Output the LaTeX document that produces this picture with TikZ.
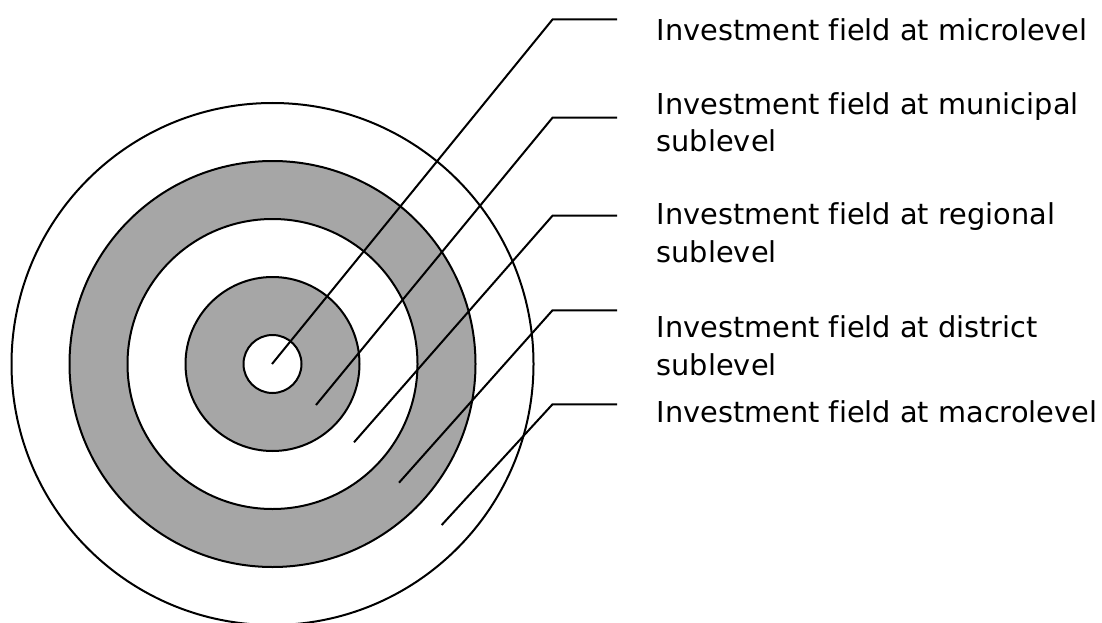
\documentclass[tikz,border=0pt]{standalone}
\usepackage{fontspec}
\setmainfont{DejaVu Sans}[Ligatures=NoCommon]
\definecolor{ringgray}{RGB}{166,166,166}

\begin{document}
\begin{tikzpicture}[x=1pt, y=-1pt,
    ring/.style={draw=black, line width=2pt},
    leader/.style={draw=black, line width=2pt},
    lbl/.style={anchor=base west, align=left, inner sep=0pt,
        font=\fontsize{28.8}{37.4}\selectfont}]
    \useasboundingbox (0,0) rectangle (1102,623);

    % rings, outermost first
    \coordinate (c) at (272.5,364);
    \draw[ring, fill=white] (c) circle (261);
    \draw[ring, fill=ringgray] (c) circle (203);
    \draw[ring, fill=white] (c) circle (145);
    \draw[ring, fill=ringgray] (c) circle (87);
    \draw[ring, fill=white] (c) circle (29);

    % labels (base = last line)
    \node[lbl] (micro) at (656.5,40.7) {Investment field at microlevel};
    \node[lbl] (municipal) at (656.5,151.7) {Investment field at municipal\\sublevel};
    \node[lbl] (regional) at (656.5,262) {Investment field at regional\\sublevel};
    \node[lbl] (district) at (656.5,375.3) {Investment field at district\\sublevel};
    \node[lbl] (macro) at (656.5,422) {Investment field at macrolevel};

    % leader lines
    \coordinate (s1) at (272,364);   \coordinate (k1) at (552.5,19.5);  \coordinate (e1) at (617,19.5);
    \coordinate (s2) at (316,405);   \coordinate (k2) at (552.5,117.7); \coordinate (e2) at (617,117.7);
    \coordinate (s3) at (354,442.3); \coordinate (k3) at (552.5,215.7); \coordinate (e3) at (617,215.7);
    \coordinate (s4) at (399,482.7); \coordinate (k4) at (552.5,310.3); \coordinate (e4) at (617,310.3);
    \coordinate (s5) at (441.7,525); \coordinate (k5) at (552.5,404.3); \coordinate (e5) at (617,404.3);
    \draw[leader] (s1) -- (k1) -- (e1);
    \draw[leader] (s2) -- (k2) -- (e2);
    \draw[leader] (s3) -- (k3) -- (e3);
    \draw[leader] (s4) -- (k4) -- (e4);
    \draw[leader] (s5) -- (k5) -- (e5);
\end{tikzpicture}
\end{document}
